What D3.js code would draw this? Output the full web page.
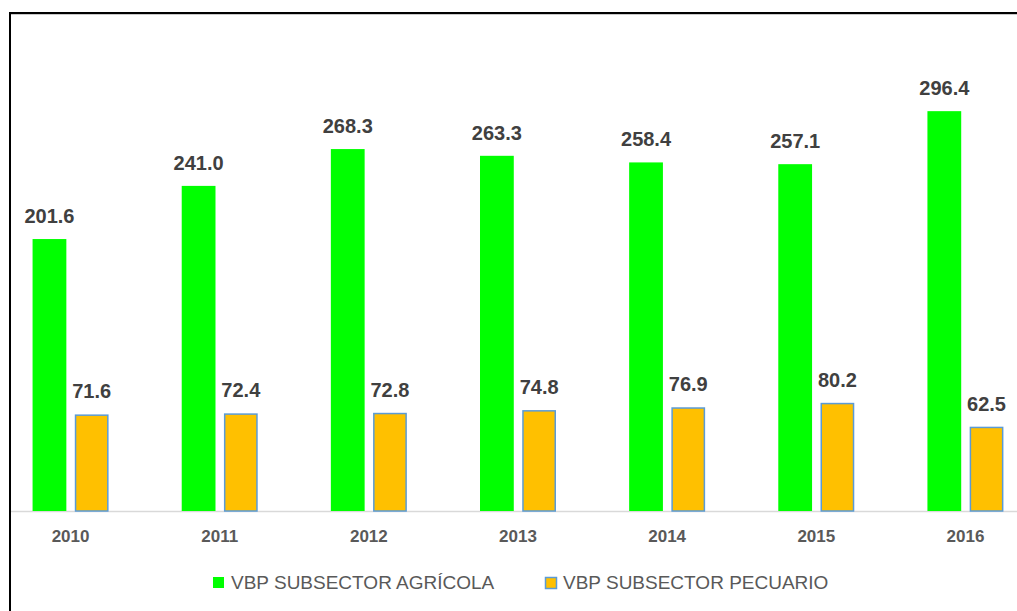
<!DOCTYPE html>
<html>
<head>
<meta charset="utf-8">
<script src="https://cdn.jsdelivr.net/npm/d3@7"></script>
<style>
  html, body { margin: 0; padding: 0; background: #fff; }
  svg { display: block; }
</style>
</head>
<body>
<svg id="chart" width="1017" height="611"></svg>
<script>
// Valor Bruto de la Producción por subsector, 2010–2016
const years = ["2010", "2011", "2012", "2013", "2014", "2015", "2016"];
const series = ["VBP SUBSECTOR AGRÍCOLA", "VBP SUBSECTOR PECUARIO"];
const agricola = [201.6, 241.0, 268.3, 263.3, 258.4, 257.1, 296.4];
const pecuario = [71.6, 72.4, 72.8, 74.8, 76.9, 80.2, 62.5];
const colors = ["#00ff00", "#ffc000"];
const strokes = [null, "#5b9bd5"];

const svg = d3.select("#chart");
const W = 1017, H = 611;
const baseY = 511;

const data = years.map((yr, i) => ({ year: yr, values: [agricola[i], pecuario[i]] }));

const x = d3.scaleBand().domain(years).range([-4, 1040]).padding(0);
const groupW = 76;
const xs = d3.scaleBand().domain(series).range([0, groupW]).paddingInner(0.2);
const y = d3.scaleLinear().domain([0, 350]).range([baseY, baseY - 350 * 1.349]);

// Frame of the chart area
svg.append("line").attr("x1", 10).attr("x2", W).attr("y1", 14.5).attr("y2", 14.5)
  .attr("stroke", "#c8c8c8").attr("stroke-width", 1);
svg.append("line").attr("x1", 9).attr("x2", W).attr("y1", 13).attr("y2", 13)
  .attr("stroke", "#000").attr("stroke-width", 2);
svg.append("line").attr("x1", 10).attr("x2", 10).attr("y1", 12).attr("y2", H)
  .attr("stroke", "#000").attr("stroke-width", 2);

// Baseline
svg.append("line").attr("x1", 11).attr("x2", W).attr("y1", baseY + 0.5).attr("y2", baseY + 0.5)
  .attr("stroke", "#d9d9d9").attr("stroke-width", 1.5);

const groups = svg.append("g").selectAll("g").data(data).join("g")
  .attr("transform", d => `translate(${x(d.year) + (x.bandwidth() - groupW) / 2},0)`);

groups.selectAll("rect").data(d => d.values.map((v, k) => ({ v, k }))).join("rect")
  .attr("x", d => xs(series[d.k]) + (strokes[d.k] ? 0.75 : 0))
  .attr("width", d => xs.bandwidth() - (strokes[d.k] ? 1.5 : 0))
  .attr("y", d => y(d.v) + (strokes[d.k] ? 0.75 : 0))
  .attr("height", d => baseY - y(d.v) - (strokes[d.k] ? 0.75 : 0))
  .attr("fill", d => colors[d.k])
  .attr("stroke", d => strokes[d.k] || "none")
  .attr("stroke-width", 1.5);

groups.selectAll("text.val").data(d => d.values.map((v, k) => ({ v, k }))).join("text")
  .attr("class", "val")
  .attr("x", d => xs(series[d.k]) + xs.bandwidth() / 2)
  .attr("y", d => y(d.v) - 16)
  .attr("text-anchor", "middle")
  .attr("font-family", "'Liberation Sans', Arial, sans-serif")
  .attr("font-weight", "bold")
  .attr("font-size", 20)
  .attr("fill", "#404040")
  .text(d => d3.format(".1f")(d.v));

// Category axis labels
const xAxis = d3.axisBottom(x).tickSize(0).tickPadding(0);
const ax = svg.append("g").attr("transform", `translate(0,${baseY})`).call(xAxis);
ax.select(".domain").remove();
ax.selectAll("text")
  .attr("y", 31)
  .attr("dy", null)
  .attr("font-family", "'Liberation Sans', Arial, sans-serif")
  .attr("font-weight", "bold")
  .attr("font-size", 17)
  .attr("fill", "#595959");

// Legend
const legendX = [213, 545];
const leg = svg.append("g").selectAll("g").data(series).join("g")
  .attr("transform", (d, i) => `translate(${legendX[i]},577)`);
leg.append("rect")
  .attr("x", (d, i) => strokes[i] ? 0.5 : 0).attr("y", (d, i) => strokes[i] ? 0.5 : 0)
  .attr("width", 11).attr("height", 11)
  .attr("fill", (d, i) => colors[i])
  .attr("stroke", (d, i) => strokes[i] || "none")
  .attr("stroke-width", 1.5);
leg.append("text")
  .attr("x", 18).attr("y", 12)
  .attr("font-family", "'Liberation Sans', Arial, sans-serif")
  .attr("font-size", 19)
  .attr("fill", "#595959")
  .text(d => d);
</script>
</body>
</html>
